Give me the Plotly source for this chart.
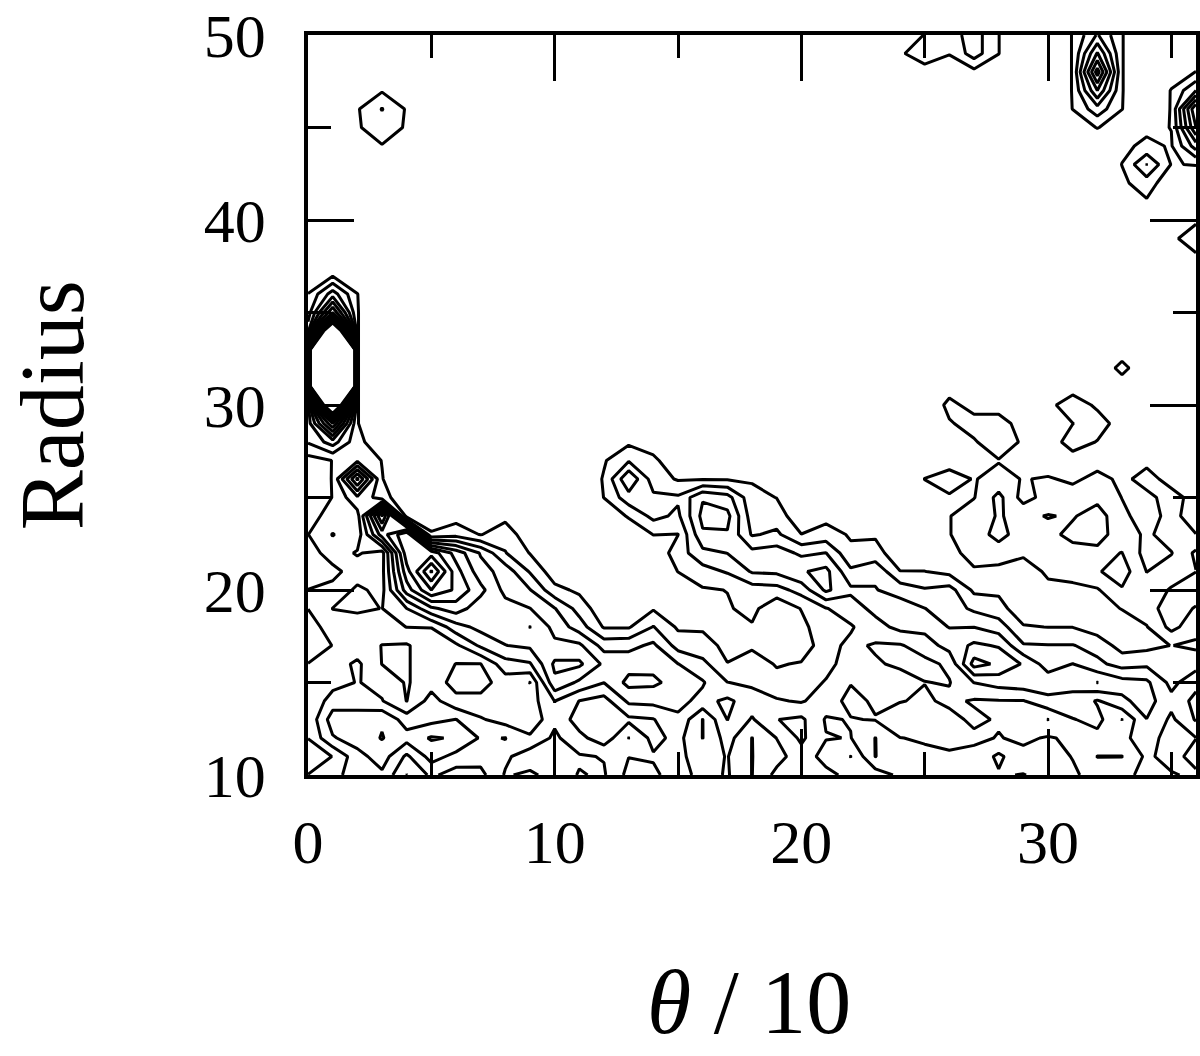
import plotly.graph_objects as go

theta = list(range(37))
radius = list(range(10, 51))
Z0 = [0] * 10

c00 = [1.02,.5,1.02,1.2,1.02,1.15,1.02,.5,.5,1.02, 1.02,.5,.5,.98,.8,.2,.2,.6,2.1,2.5, 2.5,2.5,2.5,2.5,2.5,1.5,1.02,.3,0,0] + Z0 + [0]
c01 = [1.8,1.02,2.9,3.5,2.5,1.6,1.5,1.02,1.5,2.02, 1.3,.7,1.5,2.05,1.2,1.03,1.05,1.02,3.5,8, 30,190,190,190,30,7,3.5,.9,0,0] + Z0 + [0]
c02 = [2.3,2.63,3.5,3.5,2.5,2.05,2.2,1.4,1.4,2.2, 2.2,1.5,2.1,1.4,1.6,2.8,6.2,1.8,1.3,1.05, 1.05,1.05,1.05,1.05,1.05,1.05,1.02,.3,0,0, 0,0,0,0,.3,.9,.9,.2,0,0, 0]
c03 = [2.8,3.5,4.05,3.9,2.05,1.7,.98,.98,1.5,1.98, 1.7,1.7,1.6,5.5,8.05,1.5,1.05,.97,.3,0] + Z0 + [0,0,0,0,.95,1.5,2.05,.9,0,0, 0]
c04 = [.98,1.8,3.4,2.5,.98,.9,.9,.9,2.02,3, 5.5,6.6,7.6,7.9,.6,.1,0,0,0,0] + Z0 + [0,0,0,0,.3,.9,.9,.2,0,0, 0]
c05 = [2.2,3.4,4.1,2.7,2.4,1.6,1.6,1.6,2.02,4.8, 8,10.1,7.6,1.1,.5,0,0,0,0,0] + Z0 + Z0 + [0]
c06 = [1.5,2.7,3.9,3.02,1.3,.6,.98,1.8,3.6,5.5, 6.8,6.4,5.6,1.6,.6,0,0,0,0,0] + Z0 + Z0 + [0]
c07 = [1.7,2.4,2.9,2.1,1.3,.6,.98,3.2,4.3,4.4, 5.3,4.4,3.9,.95,.3,0,0,0,0,0] + Z0 + Z0 + [0]
c08 = [3.1,2.8,3.02,1.6,1.5,1.5,2.6,3.98,4.4,4.4, 3.7,3.6,2.05,1.6,.7,0,0,0,0,0] + Z0 + Z0 + [0]
c09 = [2.8,3.6,2.2,1.2,1.5,.98,2.9,4.2,5.02,4.02, 3.05,1.9,.95,.3,0,0,0,0,0,0] + Z0 + Z0 + [0]
c10 = [3.4,3.2,3.2,2.8,3.02,4.8,5.2,4.2,3.7,3.05, 1.3,.4,0,0,0,0,0,0,0,0] + Z0 + Z0 + [0]
c11 = [2.95,3.1,2.3,1.5,1.98,3.8,5.2,4.2,2.5,1.6, .8,.2,0,0,0,0,0,0,0,0] + Z0 + Z0 + [0]
c12 = [3.1,2.95,1.4,1.4,1.6,3.02,3.8,2.6,.9,.3, 0,0,0,0,.3,1.02,1.1,.9,.1,0] + Z0 + Z0 + [0]
c13 = [1.7,2.02,3.02,1.8,3.2,4.3,3.6,2.7,.9,.4, 0,0,0,.3,1.1,2.6,3.9,1.9,.8,0] + Z0 + Z0 + [0]
c14 = [1.8,2.1,1.7,1.95,3.3,4.2,3.7,3.2,2.05,.9, .2,0,.2,1.02,2.3,2.2,1.5,1.3,.3,0] + Z0 + Z0 + [0]
c15 = [2.5,2.2,2.3,2.8,3.3,3.6,3.02,1.6,.85,.2, .3,1.02,1.5,.98,1.8,2.15,.9,0,0,0] + Z0 + Z0 + [0]
c16 = [1.6,1.6,.98,.98,2.7,3.1,2.3,1.3,.9,.3, .9,1.6,2.7,3.85,4.3,3.9,.9,0,0,0] + Z0 + Z0 + [0]
c17 = [2.1,2.05,2.4,3.02,3.2,2.02,1.02,.8,.6,.9, 1.02,2.1,3.02,3.9,4.3,3.4,.9,0,0,0] + Z0 + Z0 + [0]
c18 = [.98,.98,.98,1.9,2.5,1.8,1.6,.8,.9,1.3, 1.5,3.1,3.3,1.9,1.5,1.3,.9,0,0,0] + Z0 + Z0 + [0]
c19 = [2.3,1.6,2.02,2.98,2.1,1.4,.9,.5,.5,.2, 1.6,3.2,3.5,2.2,1.5,.98,0,0,0,0] + Z0 + Z0 + [0]
c20 = [2.6,2.6,3.2,3.2,1.9,1.7,1.1,.3,.7,1.05, 2.4,3.9,2.8,1.02,.3,0,0,0,0,0] + Z0 + Z0 + [0]
c21 = [2.3,1.6,2.05,1.9,2.5,2.05,1.8,1.7,1.7,1.95, 4.2,4.3,3.02,1.4,.7,0,0,0,0,0] + Z0 + Z0 + [0]
c22 = [1.7,.98,1.97,2.05,1.7,2.05,2.3,2.2,1.9,2.5, 3.2,2.2,1.2,.9,0,0,0,0,0,0] + Z0 + Z0 + [0]
c23 = [1.5,3.02,3.02,1.95,2.15,2.4,2.1,1.9,2.6,3.3, 3.05,2.8,1.3,.9,0,0,0,0,0,0] + Z0 + Z0 + [0]
c24 = [2.2,2.4,2.02,1.4,2.05,2.4,1.85,1.9,3.3,3.5, 2.6,1.02,.5,0,0,0,0,0,0,0] + Z0 + [0,0,0,0,0,0,0,0,0,.8, .1]
c25 = [2.4,2.2,1.9,1.7,1.85,2.02,1.7,2.5,3.3,3.02, 2.1,1.02,.1,.1,.1,.4,1.02,.4,0,0] + Z0 + [0,0,0,0,0,0,0,0,.4,1.8, 1.05]
c26 = [2.5,2.1,1.8,1.7,2.2,1.95,2.2,3.4,2.98,2.5, 2.4,.7,.5,.95,.95,.9,1.4,.6,.3,.9, 1.3,.5,0,0,0,0,0,0,0,0, 0,0,0,0,0,0,0,0,.4,1.05, 1.5]
c27 = [2.5,2.3,1.8,2.2,1.9,3.02,5.4,4.2,2.98,1.8, .8,.8,1.6,1.7,1.7,.95,.95,.6,.9,1.4, .6,0,0,0,0,0,0,0,0,0, 0,0,0,0,0,0,0,0,.7,2.5, 2.5]
c28 = [2.9,3.2,2.05,1.9,1.95,3.4,4.8,3.9,2.5,1.4, .8,.6,1.7,2.2,2.05,2.3,1.3,.95,1.6,1.5, .5,0,0,0,0,0,0,0,0,0, 0,0,0,0,0,0,0,0,.4,1.02, 1.02]
c29 = [3.05,2.3,1.8,1.7,1.95,3.6,3.9,2.1,1.1,.3, .2,.4,1.2,1.7,1.8,.6,.95,.1,.85,.5, .1,0,0,0,0,0,0,0,0,0] + Z0 + [0]
c30 = [2.6,2.5,2.1,.98,2.7,3.6,2.5,2.05,.98,.1, .7,1.2,1.5,1.7,2.05,1.4,1.1,.4,.4,.4, .7,.1,0,0,0,0,0,0,0,0] + Z0 + [0]
c31 = [2.2,1.95,1.8,1.95,2.7,3.3,3.02,2.05,.98,.2, .8,1.3,1.6,2.3,1.9,1.5,.8,.5,1.5,.98, 1.6,.5,0,0,0,0,0,0,0,0, 0,0,0,0,0,.3,1.02,1.05,1.05,1.05, 1.05]
c32 = [1.5,.98,1.7,2.3,1.9,4.02,2.25,1.6,.5,.5, .9,1.9,1.8,2.3,2.5,1.7,1.3,.6,.95,1.5, .8,.1,0,0,0,0,0,0,0,0, 0,0,0,0,0,1.05,2.6,5,7.5,5.1, 3.1]
c33 = [1.8,.98,1.8,.98,2.8,3.4,1.6,.6,.3,1.05, 1.9,2.5,2.02,1.6,1.2,.98,.8,.1,.1,.5, .1,.3,1.4,.3,0,0,0,0,0,0, 0,.2,.8,1.02,.8,.4,1.02,1.05,1.05,1.05, 1.05]
c34 = [2.2,2.2,2.4,2.98,3.4,3.2,1.8,.7,.95,1.5, 1.4,.98,.6,.8,.6,.8,1.3,.8,0,0] + Z0 + [.2,.9,1.5,3.02,1.2,.8,.2,0,0,0, 0]
c35 = [2.1,1.6,1.6,1.8,2.3,1.7,1.4,1.02,2.3,2.6, 2.1,1.5,.95,1.5,1.3,1.3,.7,.1,0,0, 0,0,0,0,0,0,0,0,.3,.6, .3,.2,.3,.95,.92,1.02,1.05,1.05,.5,0, 0]
c36 = [1.8,2.4,1.98,3.1,3.3,2.7,1.6,.8,1.4,1.9, 2.6,1.98,2.2,1.02,.5,.7,0,0,0,0, 0,0,0,0,0,0,0,0,.7,2, .7,0,0,1.05,3.5,6,7,3,1.02,0, 0]

columns = [c00,c01,c02,c03,c04,c05,c06,c07,c08,c09,c10,c11,c12,c13,c14,c15,c16,c17,c18,
           c19,c20,c21,c22,c23,c24,c25,c26,c27,c28,c29,c30,c31,c32,c33,c34,c35,c36]
z = [[col[i] for col in columns] for i in range(len(radius))]

x_ticks = [0, 10, 20, 30]
y_ticks = [10, 20, 30, 40, 50]

FONT = "Liberation Serif"
fig = go.Figure(go.Contour(
    x=theta, y=radius, z=z,
    autocontour=False,
    contours=dict(coloring="lines", start=1, end=20, size=1, showlabels=False),
    colorscale=[[0, "black"], [1, "black"]],
    line=dict(width=3, smoothing=0),
    showscale=False, hoverinfo="skip",
))
axis_common = dict(
    automargin=False,
    showgrid=False, zeroline=False, showline=True, linecolor="black", linewidth=3.5,
    mirror="allticks", ticks="inside", ticklen=46, tickwidth=3, tickcolor="black",
    tickfont=dict(family=FONT, size=62, color="black"), ticklabeloverflow="allow",
)
fig.update_xaxes(range=[0, 36], tickvals=x_ticks, ticklabelstandoff=10,
                 minor=dict(dtick=5, ticks="inside", ticklen=23, tickwidth=3, tickcolor="black", showgrid=False),
                 **axis_common)
fig.update_yaxes(range=[10, 50], tickvals=y_ticks, ticklabelstandoff=26,
                 minor=dict(dtick=5, ticks="inside", ticklen=23, tickwidth=3, tickcolor="black", showgrid=False),
                 **axis_common)
fig.update_layout(
    width=1200, height=1056, autosize=False,
    margin=dict(l=308, r=4, t=35, b=281),
    paper_bgcolor="white", plot_bgcolor="white", showlegend=False,
    annotations=[
        dict(text="Radius", xref="paper", yref="paper", x=-0.288, y=0.50, textangle=-90,
             showarrow=False, xanchor="center", yanchor="middle", font=dict(family=FONT, size=90, color="black")),
        dict(text="<i>θ</i> / 10", xref="paper", yref="paper", x=0.497, y=-0.308,
             showarrow=False, xanchor="center", yanchor="middle", font=dict(family=FONT, size=90, color="black")),
    ],
)
fig.write_html("out.html", config={"displayModeBar": False},
               post_script="document.documentElement.style.overflow='hidden';document.body.style.margin='0';")
